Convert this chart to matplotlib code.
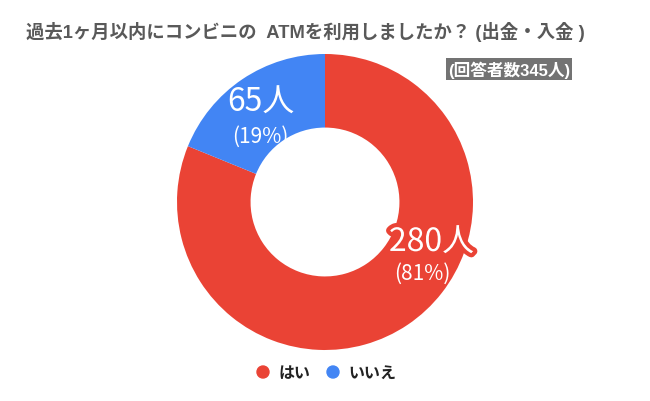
import matplotlib
matplotlib.use("Agg")
import matplotlib.pyplot as plt
import matplotlib.patheffects as pe

plt.rcParams['font.family'] = ['Noto Sans CJK JP', 'DejaVu Sans']

title = "過去1ヶ月以内にコンビニの  ATMを利用しましたか？ (出金・入金 )"
note = "(回答者数345人)"
labels = ["はい", "いいえ"]
counts = [280, 65]
percents = [81, 19]
colors = ["#EA4335", "#4285F4"]

W, H = 650, 402
fig = plt.figure(figsize=(W / 100, H / 100), dpi=100)

# donut axes, placed in pixel terms
cx, cy, r = 325, 203, 148
ax = fig.add_axes([(cx - r) / W, (H - cy - r) / H, 2 * r / W, 2 * r / H])

wedges, _ = ax.pie(counts, colors=colors, startangle=90, counterclock=False,
                   radius=1.0, wedgeprops=dict(width=0.497, edgecolor='none'))
ax.set_xlim(-1, 1)
ax.set_ylim(-1, 1)
ax.set_aspect('equal')
ax.axis('off')

# value labels
lab_font = ['Noto Sans CJK JP', 'DejaVu Sans']
ax.text(-0.43, 0.68, f"{counts[1]}人", color='white', fontsize=23,
        ha='center', va='center', family=lab_font)
ax.text(-0.44, 0.45, f"({percents[1]}%)", color='white', fontsize=15,
        ha='center', va='center', family=lab_font)
stroke = [pe.withStroke(linewidth=6, foreground=colors[0])]
ax.text(0.72, -0.27, f"{counts[0]}人", color='white', fontsize=23,
        ha='center', va='center', family=lab_font, path_effects=stroke)
ax.text(0.655, -0.48, f"({percents[0]}%)", color='white', fontsize=15,
        ha='center', va='center', family=lab_font)

# title
fig.text(26 / W, 1 - 32 / H, title, fontsize=13.2, weight='bold', color='#595959',
         ha='left', va='center', family=['Liberation Sans', 'Noto Sans CJK JP'])

# respondents box
fig.text(509 / W, 1 - 70 / H, note, fontsize=12, weight='bold', color='white',
         ha='center', va='center', family=['Liberation Sans', 'Noto Sans CJK JP'],
         bbox=dict(boxstyle='square,pad=0.12', fc='#737373', ec='none'))

# legend
ly = 1 - 373 / H
for x_dot, x_txt, lab, col in [(263, 278, labels[0], colors[0]),
                                (333, 348, labels[1], colors[1])]:
    fig.add_artist(matplotlib.patches.Ellipse((x_dot / W, ly), 12 / W, 12 / H,
                                              color=col, transform=fig.transFigure))
    fig.text(x_txt / W, ly, lab, fontsize=11.5, weight='bold', color='#222222',
             ha='left', va='center')

fig.savefig("out.png", dpi=100, facecolor='white')
